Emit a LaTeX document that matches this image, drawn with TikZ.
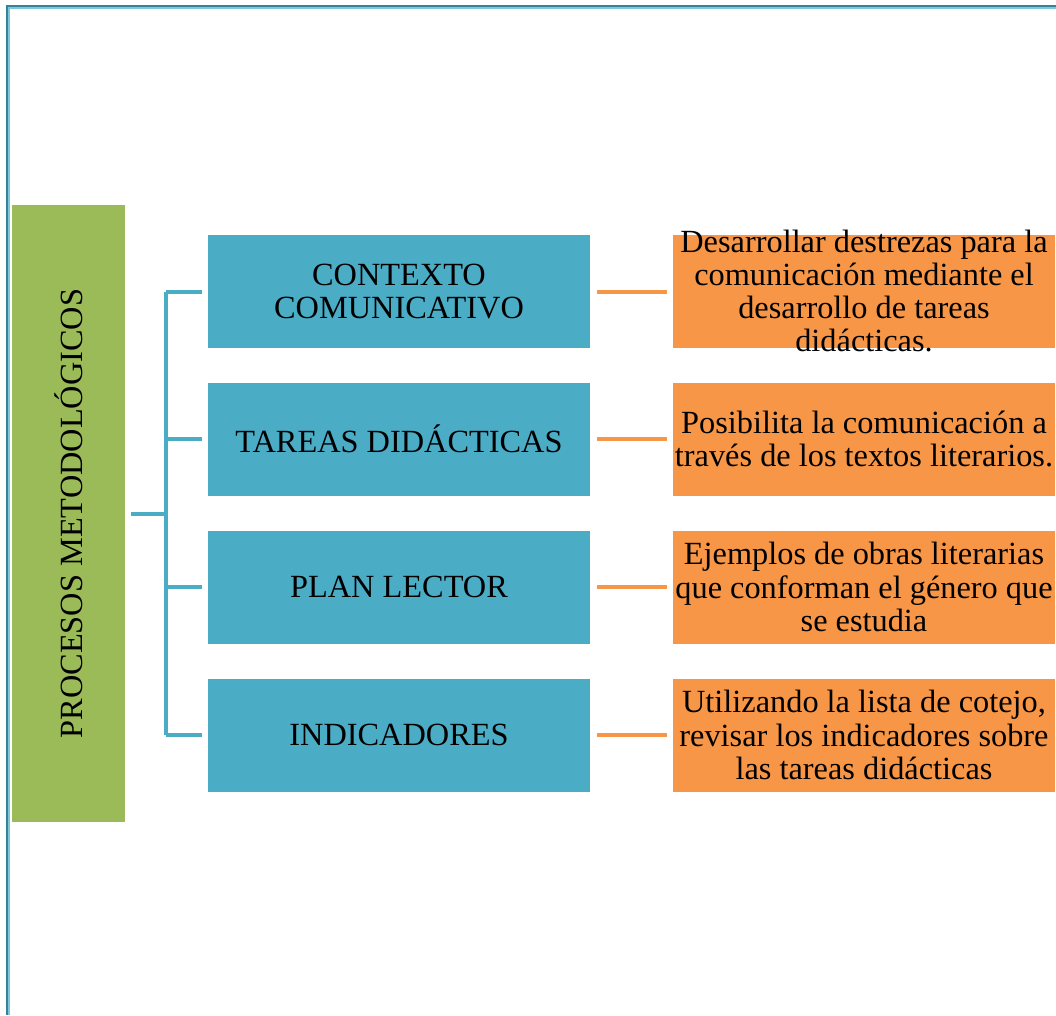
\documentclass[tikz,border=0pt]{standalone}
\usepackage{fontspec}
\setmainfont{Liberation Serif}
\usepackage{tikz}
\usetikzlibrary{calc}

\definecolor{verde}{HTML}{9BBB59}
\definecolor{azul}{HTML}{4BACC6}
\definecolor{naranja}{HTML}{F79646}
\definecolor{marco}{HTML}{31849B}

\begin{document}
\begin{tikzpicture}[x=0.025cm,y=-0.025cm,
		font=\fontsize{23}{23.6}\selectfont,
		titulo/.style={fill=verde,minimum width=113*0.025cm,minimum height=617*0.025cm,inner sep=0pt},
		etapa/.style={fill=azul,minimum width=382*0.025cm,minimum height=113*0.025cm,align=center,inner sep=0pt},
		detalle/.style={fill=naranja,minimum width=382*0.025cm,minimum height=113*0.025cm,align=center,inner sep=0pt},
		rama/.style={draw=azul,line width=4*0.025cm,line join=round},
		enlace/.style={draw=naranja,line width=4*0.025cm}]
		\useasboundingbox (0,0) rectangle (1056,1015);
		% marco de la pagina
		\draw[marco,line width=0.06cm] (7,1015) -- (7,6) -- (1056,6);
		\draw[azul!70,line width=0.03cm] (9,1015) -- (9,8) -- (1056,8);
		\node[titulo] (tit) at (68.5,513.5) {};
		\node[rotate=90] (tittxt) at (tit.center) {PROCESOS METODOLÓGICOS};
		\node[etapa] (e1) at (399,291.5) {CONTEXTO\\COMUNICATIVO};
		\node[etapa] (e2) at (399,439) {TAREAS DIDÁCTICAS};
		\node[etapa] (e3) at (399,587) {PLAN LECTOR};
		\node[etapa] (e4) at (399,735) {INDICADORES};
		\node[detalle] (d1) at (864,291.5) {\smash{\raisebox{-0.25em}{\parbox[c]{378\dimexpr0.025cm\relax}{\centering Desarrollar destrezas para la\\comunicación mediante el\\desarrollo de tareas\\didácticas.}}}};
		\node[detalle] (d2) at (864,439) {Posibilita la comunicación a\\través de los textos literarios.};
		\node[detalle] (d3) at (864,587) {Ejemplos de obras literarias\\que conforman el género que\\se estudia};
		\node[detalle] (d4) at (864,735) {Utilizando la lista de cotejo,\\revisar los indicadores sobre\\las tareas didácticas};
		% corchete
		\coordinate (lomo) at (166,0);
		\draw[rama,shorten <=6*0.025cm] (tit.east) -- (tit.east -| lomo);
		\draw[rama] (e1.west -| lomo) -- (e4.west -| lomo);
		\foreach \i in {1,...,4}{
			\draw[rama,shorten >=6*0.025cm] (e\i.west -| lomo) -- (e\i.west);
			\draw[enlace,shorten <=7*0.025cm,shorten >=6*0.025cm] (e\i.east) -- (d\i.west);
		}
\end{tikzpicture}
\end{document}
